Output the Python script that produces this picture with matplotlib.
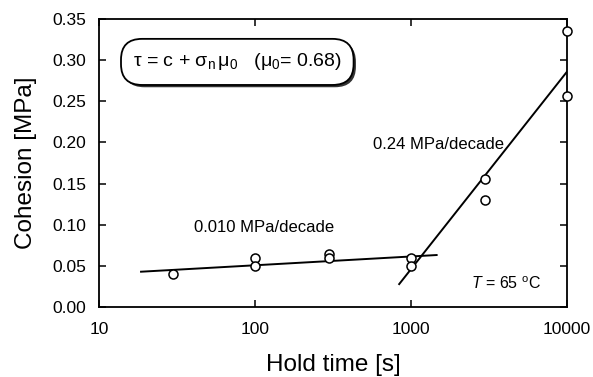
import matplotlib.pyplot as plt
import numpy as np
from matplotlib.patches import FancyBboxPatch

plt.rcParams['font.family'] = ['Liberation Sans', 'DejaVu Sans']
plt.rcParams['mathtext.fontset'] = 'custom'
plt.rcParams['mathtext.rm'] = 'Liberation Sans'
plt.rcParams['mathtext.it'] = 'Liberation Sans:italic'

# measured cohesion vs hold time
hold_time = [30, 100, 100, 300, 300, 1000, 1000, 3000, 3000, 10000, 10000]
cohesion = [0.040, 0.060, 0.050, 0.065, 0.060, 0.060, 0.050, 0.156, 0.130, 0.335, 0.256]

# log-linear fits: c = a + b*log10(t)
slow_fit = (0.0293, 0.0107)
slow_range = [18.6, 1460]
fast_fit = (-0.674, 0.24)
fast_range = [840, 10000]

fig = plt.figure(figsize=(5.93, 3.77), dpi=100)
ax = fig.add_axes([99 / 593, 1 - 307 / 377, 468 / 593, 288 / 377])

for (a, b), rng in [(slow_fit, slow_range), (fast_fit, fast_range)]:
    t = np.array(rng)
    ax.plot(t, a + b * np.log10(t), color='black', lw=1.4, zorder=2)

ax.plot(hold_time, cohesion, 'o', ms=6.5, mfc='white', mec='black', mew=1.1,
        clip_on=False, zorder=3)

ax.set_xscale('log')
ax.set_xlim(10, 10000)
ax.set_ylim(0, 0.35)
ax.set_yticks(np.arange(0, 0.351, 0.05))
ax.set_yticklabels([f'{v:.2f}' for v in np.arange(0, 0.351, 0.05)])
ax.set_xticks([10, 100, 1000, 10000])
ax.set_xticklabels(['10', '100', '1000', '10000'])
ax.minorticks_off()
ax.tick_params(direction='in', length=5, width=1.1, labelsize=12.5,
               top=True, right=True, pad=9)
ax.tick_params(axis='x', pad=11)
for s in ax.spines.values():
    s.set_linewidth(1.3)

ax.set_xlabel('Hold time [s]', fontsize=17.5, labelpad=12)
ax.set_ylabel('Cohesion [MPa]', fontsize=17.5, labelpad=11)

ax.text(0.203, 0.26, '0.010 MPa/decade', transform=ax.transAxes, fontsize=12)
ax.text(0.585, 0.55, '0.24 MPa/decade', transform=ax.transAxes, fontsize=12)
ax.text(0.795, 0.062, r'$T$ = 65 $^{\mathrm{o}}$C', transform=ax.transAxes, fontsize=11.5)

# equation box with a shadow
box_kw = dict(boxstyle='round,pad=0,rounding_size=0.045', transform=ax.transAxes,
              mutation_aspect=1.6)
shadow = FancyBboxPatch((0.052, 0.763), 0.497, 0.16, fc='#333333', ec='none',
                        zorder=4, **box_kw)
box = FancyBboxPatch((0.047, 0.771), 0.497, 0.16, fc='white', ec='black',
                     lw=1.3, zorder=5, **box_kw)
ax.add_patch(shadow)
ax.add_patch(box)
ax.text(0.295, 0.851, r'$\mathrm{\tau}$ = c + $\mathrm{\sigma_n\,\mu_0}$   ($\mathrm{\mu_0}$= 0.68)',
        transform=ax.transAxes, fontsize=14, ha='center', va='center', zorder=6)

fig.savefig('out.png', dpi=100)
